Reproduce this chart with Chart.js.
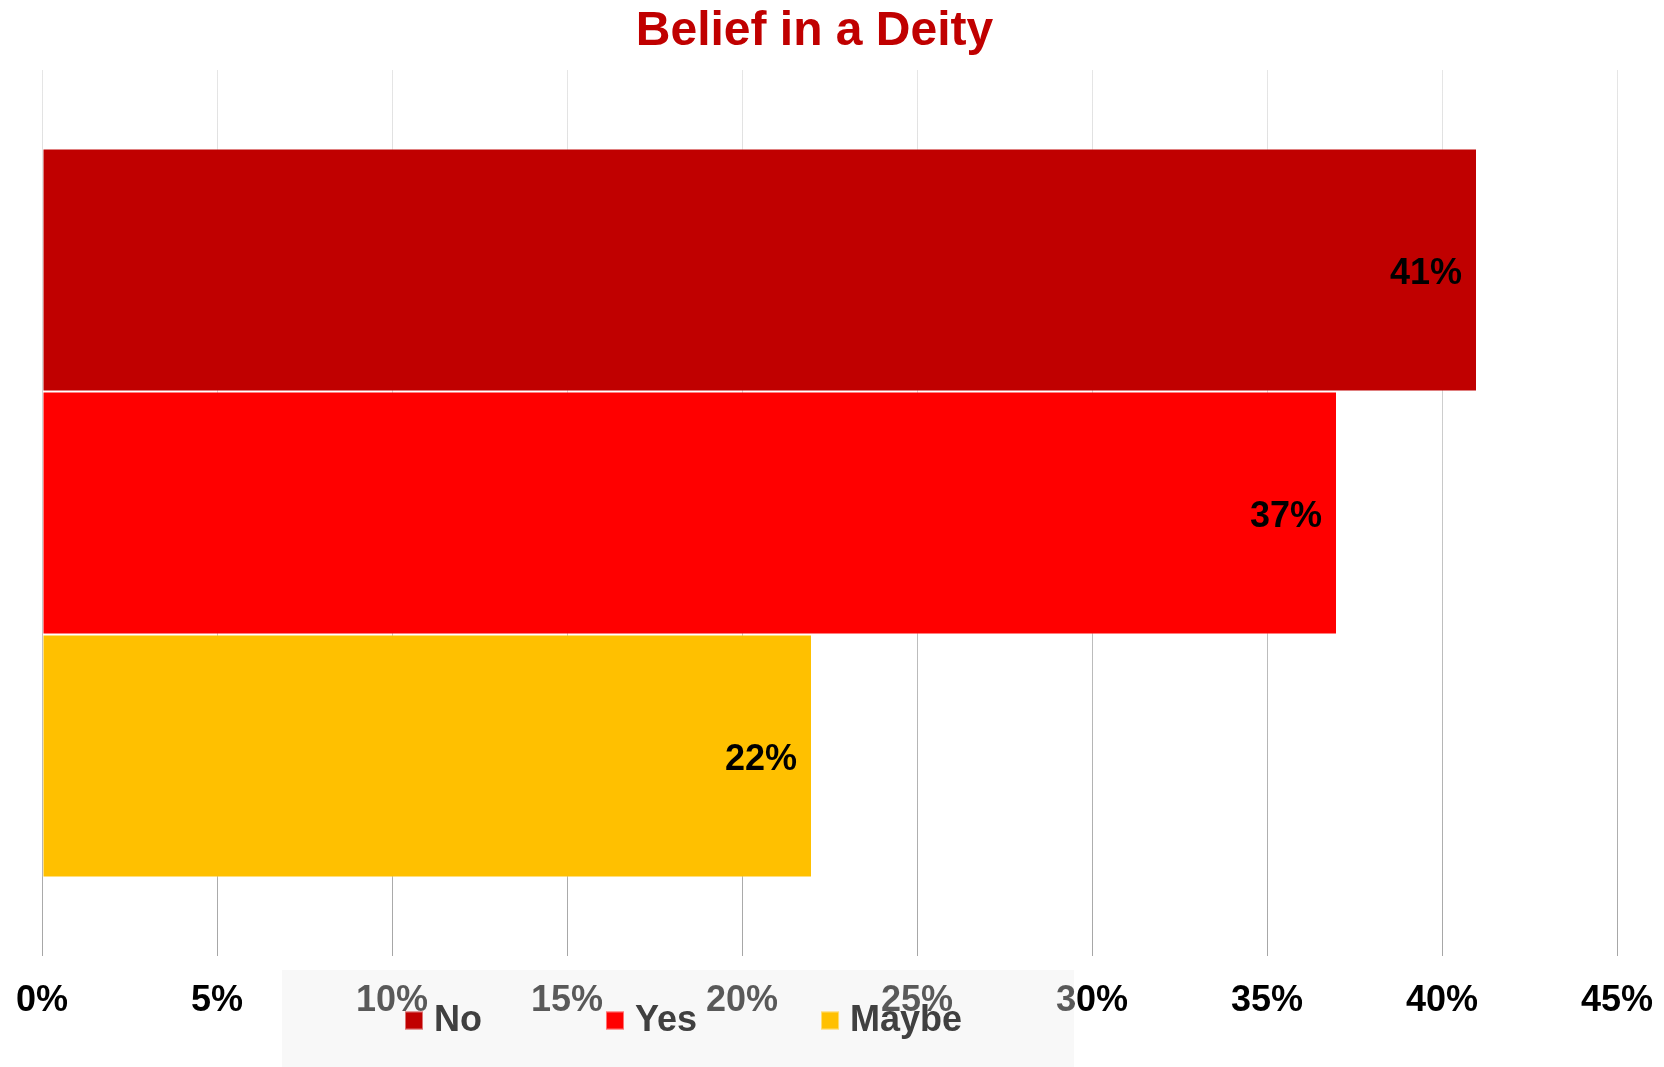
<!DOCTYPE html>
<html>
<head>
<meta charset="utf-8">
<script src="https://cdn.jsdelivr.net/npm/chart.js@4"></script>
<style>
  html, body { margin: 0; padding: 0; background: #ffffff; }
  #wrap { width: 1664px; height: 1067px; }
</style>
</head>
<body>
<div id="wrap"><canvas id="c" width="1664" height="1067"></canvas></div>
<script>
const chartTitle = 'Belief in a Deity';
const categories = ['Belief in a Deity'];
const seriesNames = ['No', 'Yes', 'Maybe'];
const seriesValues = [41, 37, 22];
const seriesColors = ['#c00000', '#ff0000', '#ffc000'];
const tickMin = 0;
const tickMax = 45;
const tickStep = 5;

const FONT = '"Liberation Sans", Arial, sans-serif';

const datasets = seriesNames.map((name, i) => ({
  label: name,
  data: [seriesValues[i]],
  backgroundColor: seriesColors[i],
  borderColor: 'rgba(255,255,255,0.4)',
  borderWidth: 1,
  borderSkipped: false
}));

const titleShiftPlugin = {
  id: 'titleShift',
  afterLayout(chart) {
    const t = chart.titleBlock;
    if (t) { t.left -= 15; t.right -= 15; }
  }
};

const dataLabelPlugin = {
  id: 'dataLabels',
  afterDatasetsDraw(chart) {
    const ctx = chart.ctx;
    ctx.save();
    ctx.font = 'bold 36px ' + FONT;
    ctx.fillStyle = '#000000';
    ctx.textAlign = 'right';
    ctx.textBaseline = 'middle';
    chart.data.datasets.forEach((ds, di) => {
      const meta = chart.getDatasetMeta(di);
      meta.data.forEach((el, j) => {
        ctx.fillText(ds.data[j] + '%', el.x - 15, el.y + 4);
      });
    });
    ctx.restore();
  }
};

const legendBoxPlugin = {
  id: 'legendBox',
  afterDraw(chart) {
    const ctx = chart.ctx;
    ctx.save();
    ctx.fillStyle = 'rgba(237,237,237,0.376)';
    ctx.fillRect(282, 970, 792, 97);
    ctx.font = 'bold 36px ' + FONT;
    ctx.textBaseline = 'middle';
    ctx.textAlign = 'left';
    const cy = 1020.5;
    let x = 405;
    chart.data.datasets.forEach((ds) => {
      ctx.fillStyle = ds.backgroundColor;
      ctx.fillRect(x, cy - 9, 18, 18);
      ctx.strokeStyle = 'rgba(255,255,255,0.45)';
      ctx.lineWidth = 1;
      ctx.strokeRect(x + 0.5, cy - 8.5, 17, 17);
      ctx.fillStyle = '#404040';
      ctx.fillText(ds.label, x + 29, cy + 1);
      const w = ctx.measureText(ds.label).width;
      x += 29 + w + 124;
    });
    ctx.restore();
  }
};

new Chart(document.getElementById('c'), {
  type: 'bar',
  data: { labels: categories, datasets: datasets },
  plugins: [titleShiftPlugin, dataLabelPlugin, legendBoxPlugin],
  options: {
    indexAxis: 'y',
    responsive: false,
    animation: false,
    devicePixelRatio: 1,
    layout: { padding: { left: 42, right: 47, top: 0, bottom: 44 } },
    datasets: { bar: { categoryPercentage: 0.823, barPercentage: 1.0 } },
    plugins: {
      legend: { display: false },
      tooltip: { enabled: false },
      title: {
        display: true,
        text: chartTitle,
        color: '#c00000',
        font: { family: FONT, size: 48, weight: 'bold', lineHeight: 1.2 },
        padding: { top: 3, bottom: 9.4 }
      }
    },
    scales: {
      x: {
        type: 'linear',
        min: tickMin,
        max: tickMax,
        border: { display: false },
        grid: {
          display: true,
          drawTicks: true,
          tickLength: 24,
          tickColor: 'rgba(0,0,0,0)',
          lineWidth: 1,
          color: (c) => {
            const area = c.chart.chartArea;
            if (!area) return '#cccccc';
            const g = c.chart.ctx.createLinearGradient(0, area.top, 0, area.bottom);
            g.addColorStop(0, '#e6e6e6');
            g.addColorStop(1, '#a6a6a6');
            return g;
          }
        },
        ticks: {
          stepSize: tickStep,
          padding: 0,
          color: '#000000',
          font: { family: FONT, size: 36, weight: 'bold', lineHeight: 1.2 },
          maxRotation: 0,
          callback: (v) => v + '%'
        }
      },
      y: {
        display: false,
        grid: { display: false }
      }
    }
  }
});
</script>
</body>
</html>
